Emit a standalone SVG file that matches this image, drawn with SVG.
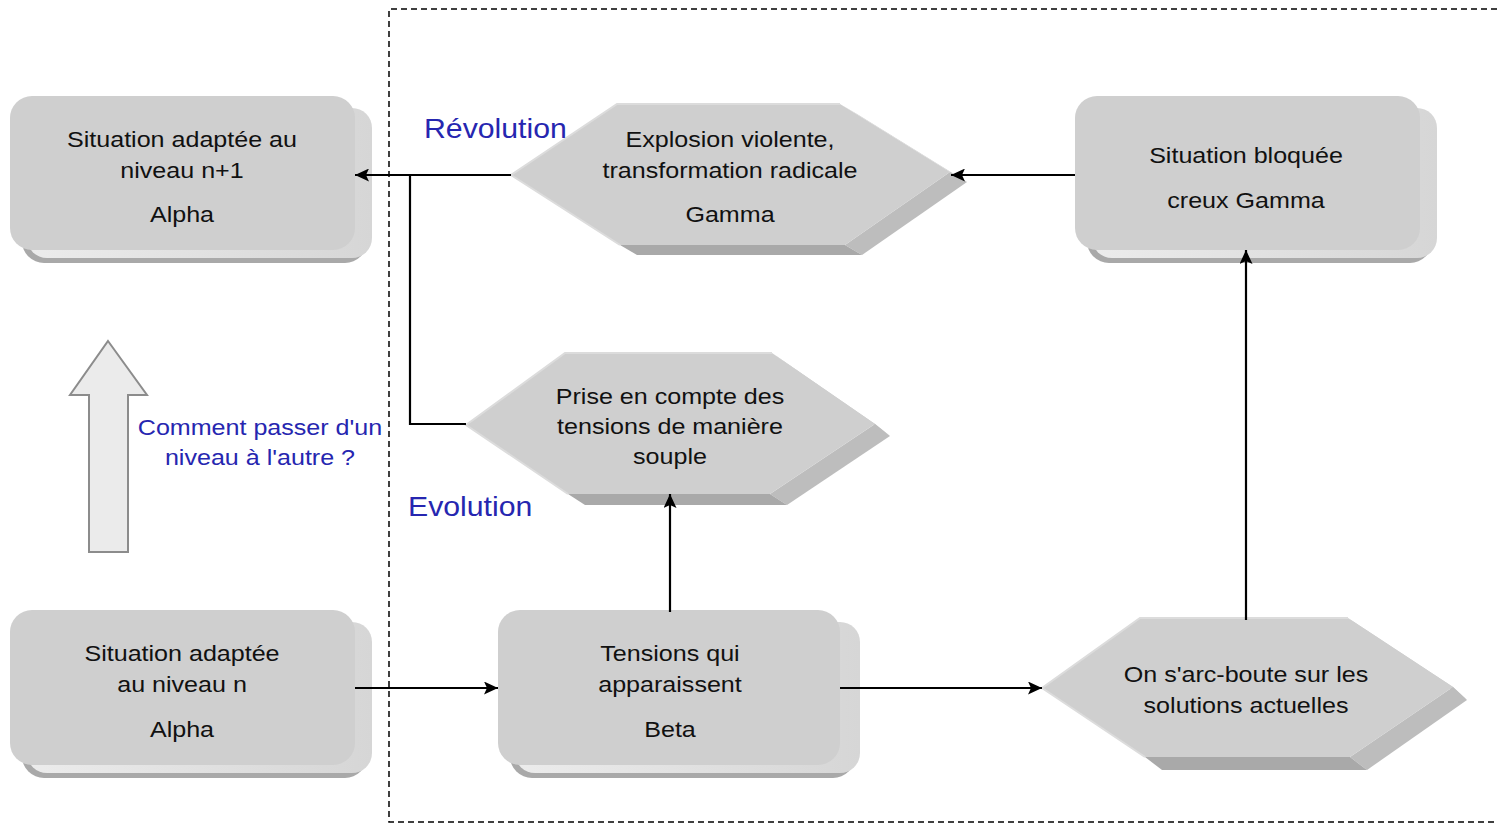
<svg xmlns="http://www.w3.org/2000/svg" width="1497" height="824" viewBox="0 0 1497 824">
<defs>
<style>
.face{fill:#cfcfcf;}
.bot{fill:#a9a9a9;}
.hside{fill:#bdbdbd;}
.hup{fill:#c9c9c9;}
.hedge{fill:none;stroke:#dcdcdc;stroke-width:2;}
.t{font-family:"Liberation Sans",Arial,sans-serif;font-size:22px;fill:#111;text-anchor:middle;}
.blue{font-family:"Liberation Sans",Arial,sans-serif;fill:#2626b0;}
.con{fill:none;stroke:#000;stroke-width:2.2;}
</style>
<marker id="ah" markerUnits="userSpaceOnUse" markerWidth="15" markerHeight="13" refX="14" refY="6.5" orient="auto">
<path d="M0,0 L14,6.5 L0,13 L3,6.5 z" fill="#000"/>
</marker>
<linearGradient id="sg" x1="0" y1="0" x2="1" y2="0">
<stop offset="0" stop-color="#ececec"/>
<stop offset="1" stop-color="#d6d6d6"/>
</linearGradient>
</defs>
<rect width="1497" height="824" fill="#fff"/>

<path d="M1497,9 H389 V822 H1497" fill="none" stroke="#000" stroke-width="1.5" stroke-dasharray="6 4"/>

<g id="nodeA">
<rect class="bot" x="22" y="110" width="345" height="153" rx="22"/>
<rect x="27" y="108" width="345" height="150" rx="20" fill="url(#sg)"/>
<rect class="face" x="10" y="96" width="345" height="154" rx="22"/>
<g transform="translate(182 0) scale(1.14 1)">
<text class="t" x="0" y="147">Situation adaptée au</text>
<text class="t" x="0" y="178">niveau n+1</text>
<text class="t" x="0" y="222">Alpha</text>
</g>
</g>

<g id="nodeB">
<rect class="bot" x="22" y="624" width="345" height="154" rx="22"/>
<rect x="27" y="622" width="345" height="151" rx="20" fill="url(#sg)"/>
<rect class="face" x="10" y="610" width="345" height="155" rx="22"/>
<g transform="translate(182 0) scale(1.14 1)">
<text class="t" x="0" y="661">Situation adaptée</text>
<text class="t" x="0" y="692">au niveau n</text>
<text class="t" x="0" y="737">Alpha</text>
</g>
</g>

<g id="nodeC">
<rect class="bot" x="510" y="624" width="345" height="154" rx="22"/>
<rect x="515" y="622" width="345" height="151" rx="20" fill="url(#sg)"/>
<rect class="face" x="498" y="610" width="342" height="155" rx="22"/>
<g transform="translate(670 0) scale(1.14 1)">
<text class="t" x="0" y="661">Tensions qui</text>
<text class="t" x="0" y="692">apparaissent</text>
<text class="t" x="0" y="737">Beta</text>
</g>
</g>

<g id="nodeD">
<rect class="bot" x="1087" y="110" width="345" height="153" rx="22"/>
<rect x="1092" y="108" width="345" height="150" rx="20" fill="url(#sg)"/>
<rect class="face" x="1075" y="96" width="345" height="154" rx="22"/>
<g transform="translate(1246 0) scale(1.14 1)">
<text class="t" x="0" y="163">Situation bloquée</text>
<text class="t" x="0" y="208">creux Gamma</text>
</g>
</g>

<g id="nodeG">
<polygon class="hup" points="840,104 857,114 967,182 950,172"/>
<polygon class="hside" points="950,172 967,182 862,255 845,245"/>
<polygon class="bot" points="620,245 845,245 862,255 637,255"/>
<polygon class="face" points="511,175 617,104 840,104 950,172 845,245 620,245"/>
<polyline class="hedge" points="620,245 511,175 617,104 840,104"/>
<g transform="translate(730 0) scale(1.14 1)">
<text class="t" x="0" y="147">Explosion violente,</text>
<text class="t" x="0" y="178">transformation radicale</text>
<text class="t" x="0" y="222">Gamma</text>
</g>
</g>

<g id="nodeP">
<polygon class="hup" points="772,353 787,364 890,436 875,424"/>
<polygon class="hside" points="875,424 890,436 787,505 770,494"/>
<polygon class="bot" points="568,494 770,494 787,505 585,505"/>
<polygon class="face" points="466,425 565,353 772,353 875,424 770,494 568,494"/>
<polyline class="hedge" points="568,494 466,425 565,353 772,353"/>
<g transform="translate(670 0) scale(1.14 1)">
<text class="t" x="0" y="404">Prise en compte des</text>
<text class="t" x="0" y="434">tensions de manière</text>
<text class="t" x="0" y="464">souple</text>
</g>
</g>

<g id="nodeO">
<polygon class="hup" points="1348,618 1363,630 1467,700 1453,687"/>
<polygon class="hside" points="1453,687 1467,700 1367,770 1350,757"/>
<polygon class="bot" points="1145,757 1350,757 1367,770 1162,770"/>
<polygon class="face" points="1042,688 1140,618 1348,618 1453,687 1350,757 1145,757"/>
<polyline class="hedge" points="1145,757 1042,688 1140,618 1348,618"/>
<g transform="translate(1246 0) scale(1.14 1)">
<text class="t" x="0" y="682">On s'arc-boute sur les</text>
<text class="t" x="0" y="713">solutions actuelles</text>
</g>
</g>

<g id="bigArrow">
<polygon points="108,341 147,395 128,395 128,552 89,552 89,395 70,395" fill="#ebebeb" stroke="#8c8c8c" stroke-width="2"/>
</g>

<g id="labels">
<text class="blue" transform="translate(424 0) scale(1.08 1)" x="0" y="138" font-size="28">Révolution</text>
<text class="blue" transform="translate(408 0) scale(1.08 1)" x="0" y="516" font-size="28">Evolution</text>
<g transform="translate(260 0) scale(1.14 1)">
<text class="blue" x="0" y="435" font-size="22" text-anchor="middle">Comment passer d'un</text>
<text class="blue" x="0" y="465" font-size="22" text-anchor="middle">niveau à l'autre ?</text>
</g>
</g>

<g id="connectors">
<path class="con" d="M511,175 H355" marker-end="url(#ah)"/>
<path class="con" d="M466,424 H410 V175"/>
<path class="con" d="M1075,175 H951" marker-end="url(#ah)"/>
<path class="con" d="M355,688 H498" marker-end="url(#ah)"/>
<path class="con" d="M840,688 H1042" marker-end="url(#ah)"/>
<path class="con" d="M670,612 V494" marker-end="url(#ah)"/>
<path class="con" d="M1246,620 V250" marker-end="url(#ah)"/>
</g>
</svg>
